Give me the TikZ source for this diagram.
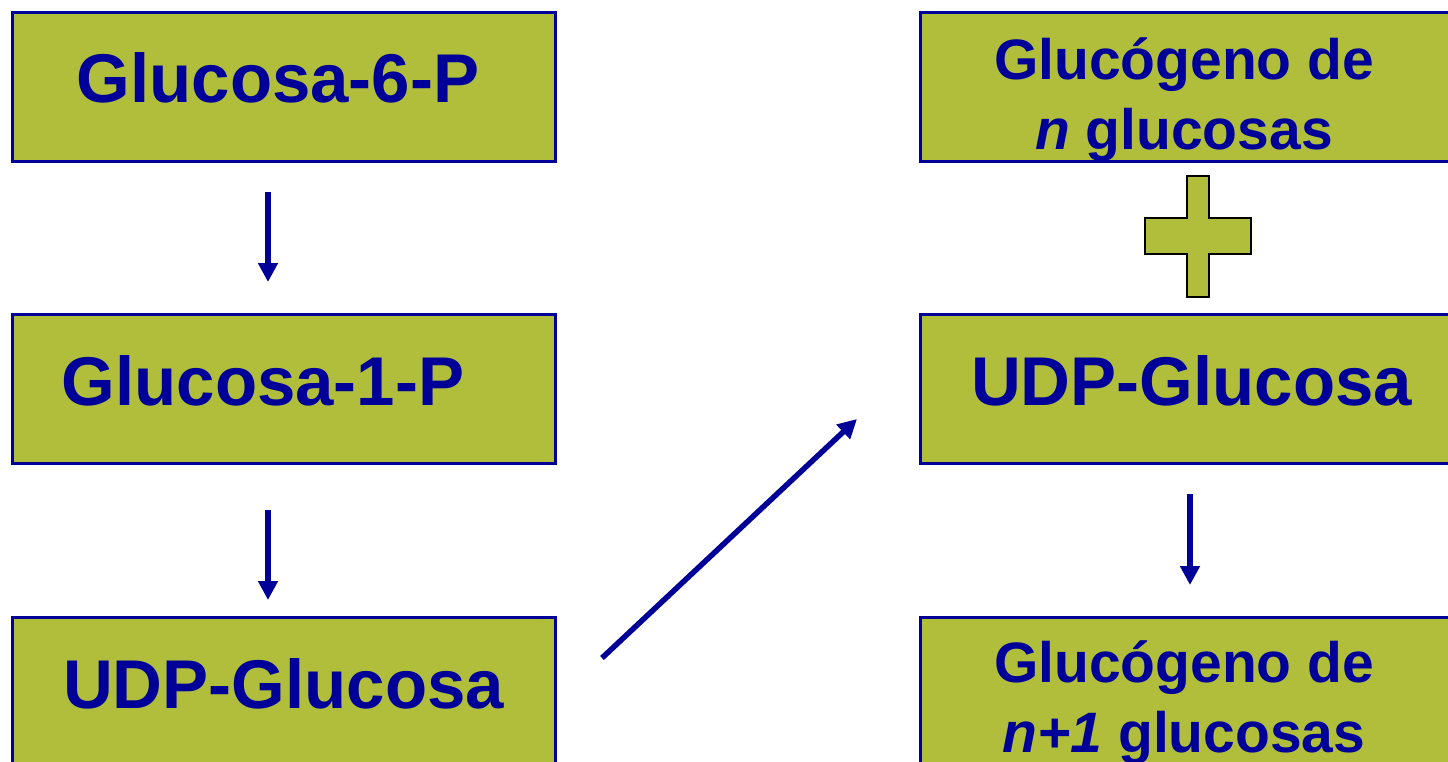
\documentclass[tikz,border=0pt]{standalone}
\usepackage{fontspec}
\setmainfont{Liberation Sans}
\usetikzlibrary{arrows.meta}
\definecolor{boxfill}{RGB}{176,190,60}
\definecolor{ink}{RGB}{0,0,153}
\begin{document}
\begin{tikzpicture}[x=1pt,y=-1pt,
  stage/.style={draw=ink, line width=2.5pt, fill=boxfill, minimum width=543pt,
    minimum height=149pt, inner sep=0pt, anchor=north west},
  bigtext/.style={text=ink, font=\fontsize{69}{83}\selectfont\bfseries,
    inner sep=0pt, anchor=base},
  twoline/.style={text=ink, font=\fontsize{57}{70}\selectfont\bfseries,
    inner sep=0pt, align=center, anchor=base},
  flow/.style={draw=ink, line width=5.5pt, -{Triangle[width=19pt,length=19pt]}}
]
\useasboundingbox (0,0) rectangle (1448,761);
\clip (0,0) rectangle (1448,761);

% left column
\node[stage] (g6p) at (11,11) {};
\node[stage] (g1p) at (11,313) {};
\node[stage] (udpl) at (11,616) {};
% right column
\node[stage] (gn) at (919,11) {};
\node[stage] (udpr) at (919,313) {};
\node[stage] (gn1) at (919,616) {};

% labels (two-line labels sit on the baseline of their last line)
\node[bigtext] (tg6p) at (278,102) {Glucosa-6-P};
\node[bigtext] (tg1p) at (263,405) {Glucosa-1-P};
\node[bigtext] (tudpl) at (283.5,708) {UDP-Glucosa};
\node[bigtext] (tudpr) at (1191.5,405) {UDP-Glucosa};
\node[twoline] (tgn) at (1184,149) {Glucógeno de\\\textit{n} glucosas};
\node[twoline] (tgn1) at (1184,752) {Glucógeno de\\\textit{n+1} glucosas};

% plus sign
\draw[fill=boxfill, draw=black, line width=1.5pt]
  (1187,176) -- (1209,176) -- (1209,218) -- (1251,218) -- (1251,254)
  -- (1209,254) -- (1209,297) -- (1187,297) -- (1187,254) -- (1145,254)
  -- (1145,218) -- (1187,218) -- cycle;

% arrows
\coordinate (a1s) at (268,192);
\coordinate (a1e) at (268,282);
\coordinate (a2s) at (268,510);
\coordinate (a2e) at (268,600);
\coordinate (a3s) at (602,658);
\coordinate (a3e) at (857,419);
\coordinate (a4s) at (1190,494);
\coordinate (a4e) at (1190,585);
\draw[flow] (a1s) -- (a1e);
\draw[flow] (a2s) -- (a2e);
\draw[flow] (a3s) -- (a3e);
\draw[flow] (a4s) -- (a4e);
\end{tikzpicture}
\end{document}
